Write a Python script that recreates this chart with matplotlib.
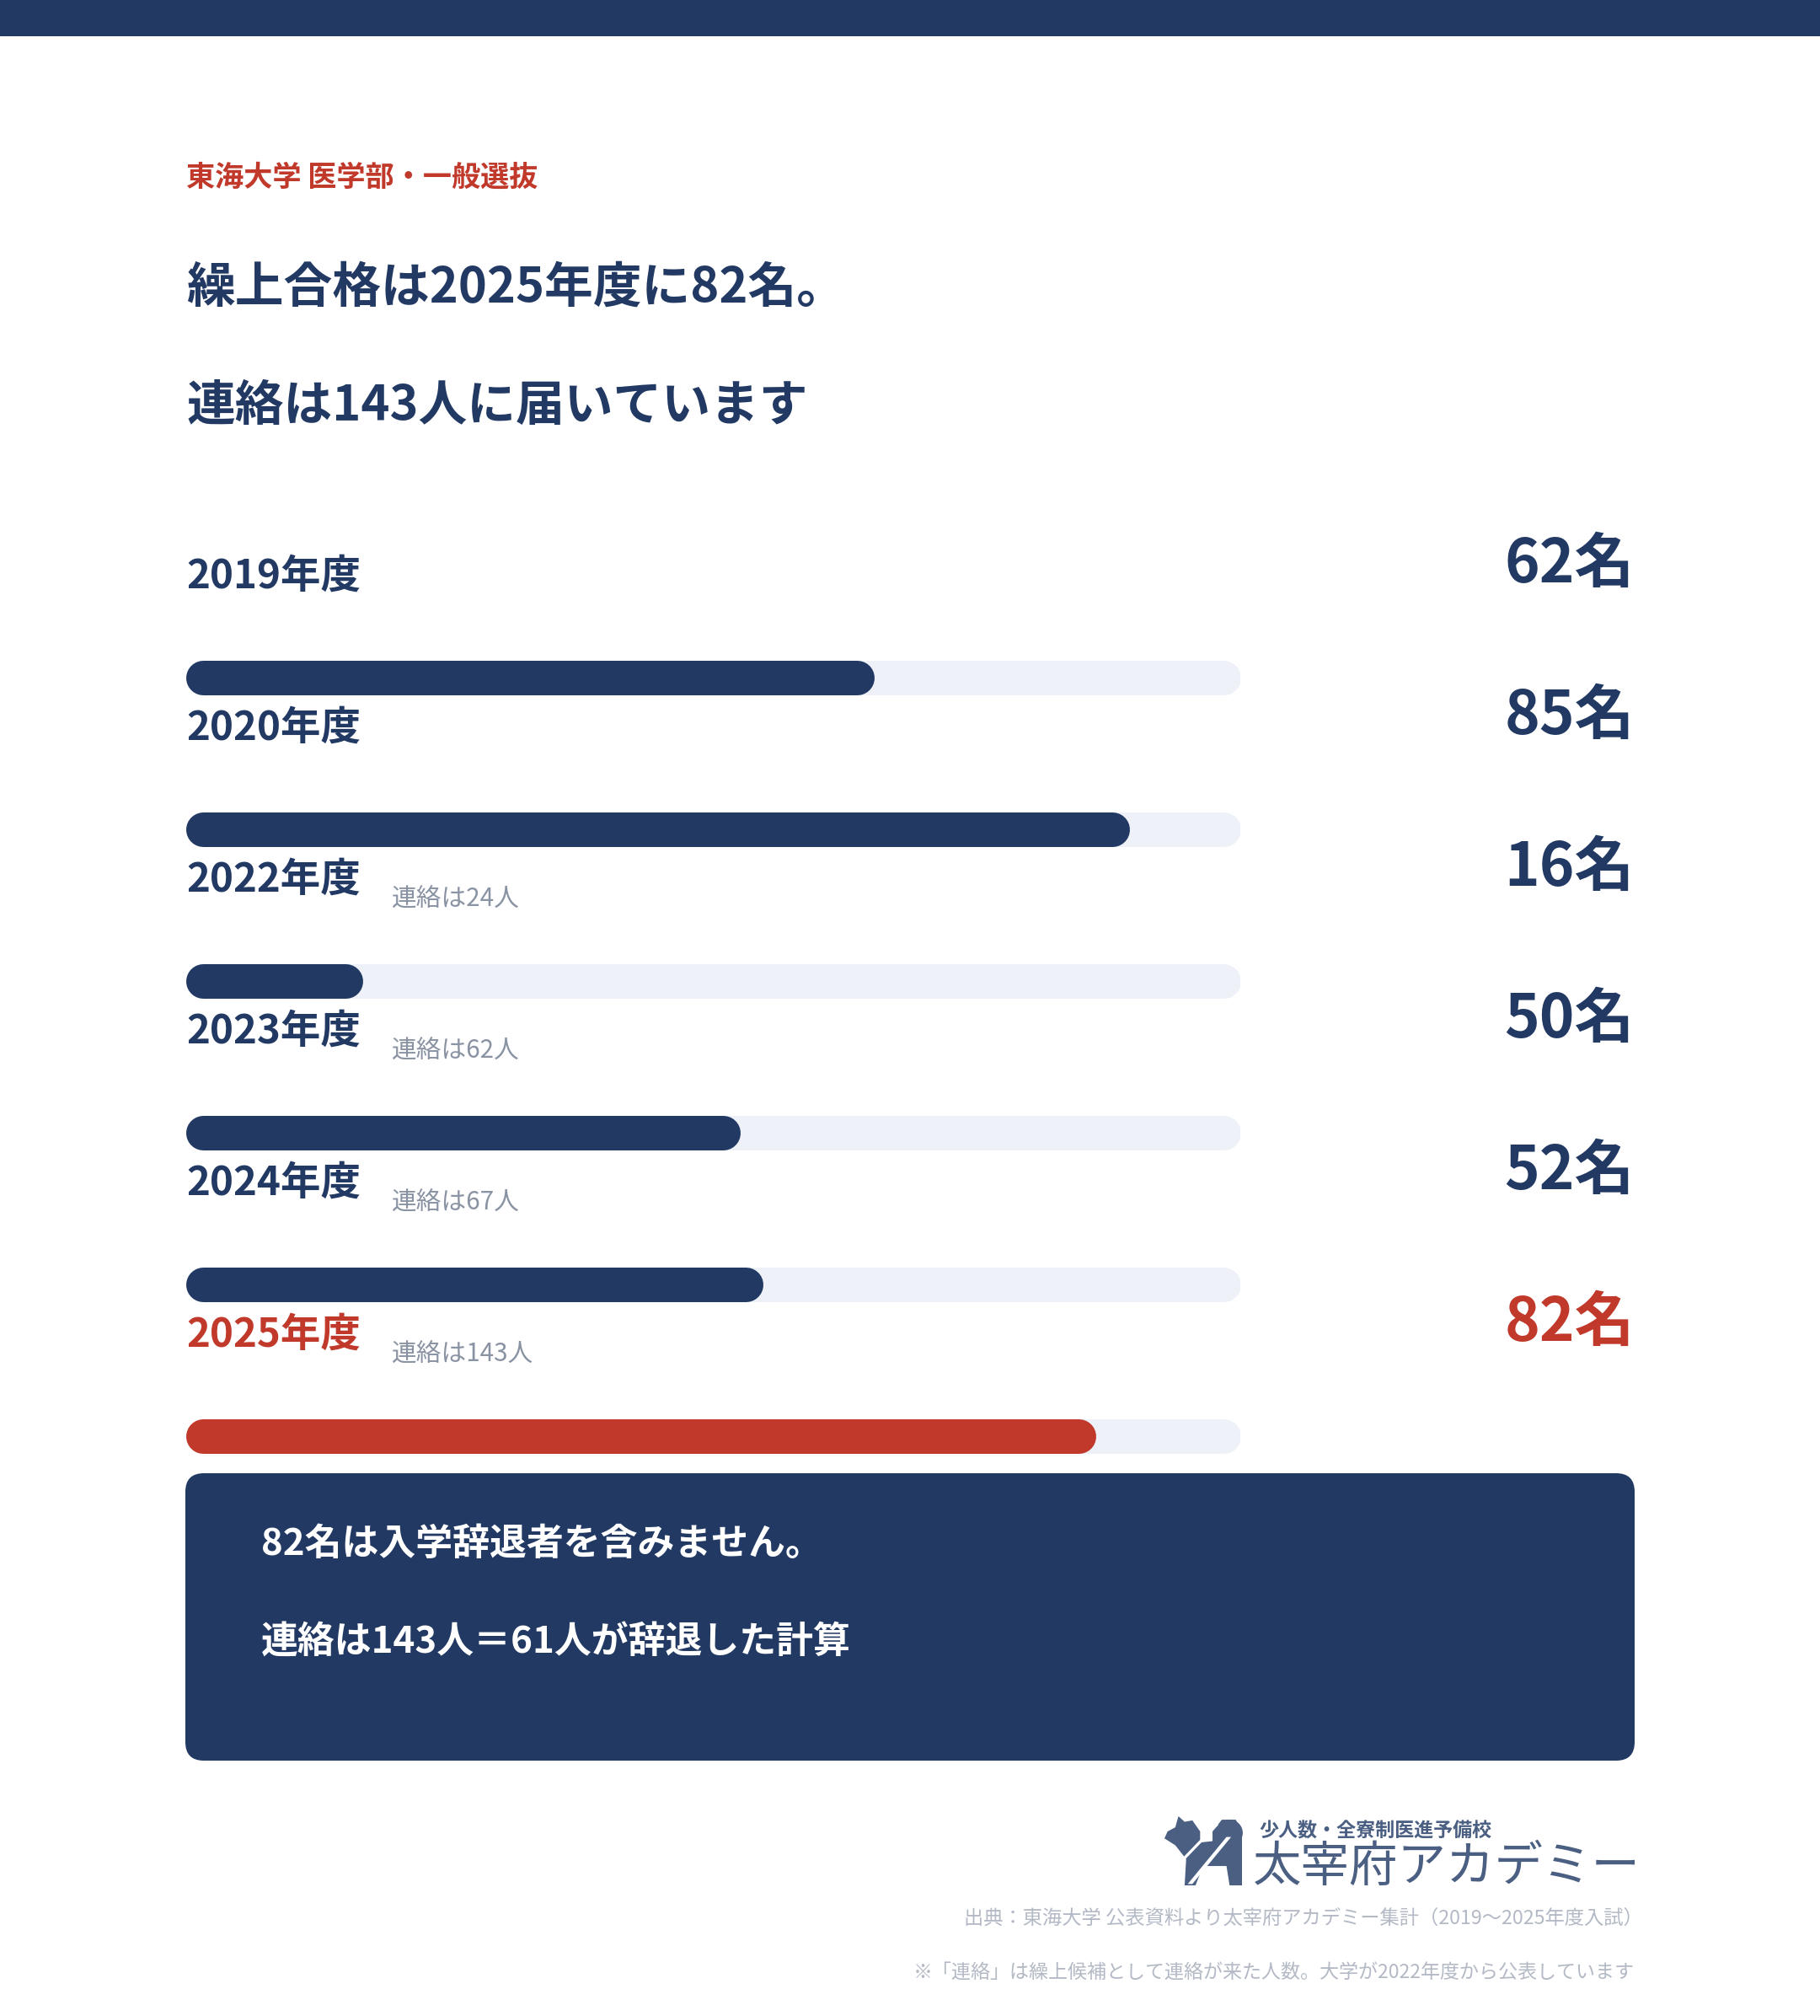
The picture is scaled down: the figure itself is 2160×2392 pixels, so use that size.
import matplotlib
matplotlib.use("Agg")
import matplotlib.pyplot as plt
from matplotlib.patches import FancyBboxPatch, Rectangle, Polygon, Circle

plt.rcParams['font.family'] = ['Noto Sans CJK JP', 'DejaVu Sans']

# data
years = ["2019年度", "2020年度", "2022年度", "2023年度", "2024年度", "2025年度"]
passed = [62, 85, 16, 50, 52, 82]
contacted = [None, None, 24, 62, 67, 143]
scale_max = 95

NAVY = "#213963"
RED = "#c0392b"
TRACK = "#eef1f8"
GRAY = "#8a93a3"
LIGHT = "#b3b9c5"
LOGO = "#4a5f82"

W, H = 2160, 2392
DPI = 200
fig = plt.figure(figsize=(W / DPI, H / DPI), dpi=DPI)
fig.patch.set_facecolor("white")

# background axes in pixel units (y down)
bg = fig.add_axes([0, 0, 1, 1])
bg.set_xlim(0, W)
bg.set_ylim(H, 0)
bg.axis("off")

bg.add_patch(Rectangle((0, 0), W, 43, color=NAVY, lw=0))

LEFT = 221
bg.text(LEFT, 210, "東海大学 医学部・一般選抜", color=RED, fontsize=12.3,
        fontweight="bold", va="center", ha="left")
bg.text(LEFT, 342, "繰上合格は2025年度に82名。", color=NAVY, fontsize=20.8,
        fontweight="bold", va="center", ha="left")
bg.text(LEFT, 482, "連絡は143人に届いています", color=NAVY, fontsize=20.8,
        fontweight="bold", va="center", ha="left")

# rows
ROW0, STEP = 684, 180
for i, (yr, n, c) in enumerate(zip(years, passed, contacted)):
    y = ROW0 + STEP * i
    col = RED if i == len(years) - 1 else NAVY
    bg.text(LEFT, y, yr, color=col, fontsize=17.1, fontweight="bold",
            va="center", ha="left")
    bg.text(1940, y - 14, f"{n}名", color=col, fontsize=25.5, fontweight="bold",
            va="center", ha="right")
    if c is not None:
        bg.text(465, y + 23, f"連絡は{c}人", color=GRAY, fontsize=10.7,
                va="center", ha="left")

# bar axes, x in data units, one row per year
BAR_L, BAR_R = 220, 1472
TOP = 804 - 90
bar_ax = fig.add_axes([BAR_L / W, 1 - (TOP + STEP * len(years)) / H,
                       (BAR_R - BAR_L) / W, STEP * len(years) / H])
bar_ax.set_xlim(0, scale_max)
bar_ax.set_ylim(len(years) - 0.5, -0.5)
bar_ax.axis("off")

bar_h = 41  # px
lw = bar_h / DPI * 72
r = (bar_h / 2) * scale_max / (BAR_R - BAR_L)  # cap radius in data units
for i, n in enumerate(passed):
    col = RED if i == len(passed) - 1 else NAVY
    bar_ax.plot([r, scale_max - r], [i, i], color=TRACK, lw=lw,
                solid_capstyle="round")
    bar_ax.plot([r, n - r], [i, i], color=col, lw=lw, solid_capstyle="round")

# summary box
bg.add_patch(FancyBboxPatch((220 + 22, 1748 + 22), 1720 - 44, 341 - 44,
                            boxstyle="round,pad=22", color=NAVY, lw=0))
bg.text(310, 1832, "82名は入学辞退者を含みません。", color="white", fontsize=15.8,
        fontweight="bold", va="center", ha="left")
bg.text(310, 1949, "連絡は143人＝61人が辞退した計算", color="white", fontsize=15.8,
        fontweight="bold", va="center", ha="left")

# logo (rough dog icon + name)
ox, oy, sw, sh = 1382, 2155, 92, 82
def pt(u, v):
    return (ox + u * sw, oy + v * sh)
body = [pt(0.18, 0.0), pt(0.26, 0.08), pt(0.36, 0.06), pt(0.46, 0.22),
        pt(0.46, 0.38), pt(0.62, 0.36), pt(0.62, 0.22), pt(0.74, 0.05),
        pt(0.92, 0.05), pt(1.0, 0.22), pt(1.0, 1.0), pt(0.84, 1.0),
        pt(0.80, 0.72), pt(0.50, 0.72), pt(0.40, 1.0), pt(0.26, 1.0),
        pt(0.28, 0.62), pt(0.14, 0.42), pt(0.0, 0.32), pt(0.04, 0.22),
        pt(0.14, 0.16)]
bg.add_patch(Polygon(body, closed=True, color=LOGO, lw=0))
bg.add_patch(Circle(pt(0.84, 0.24), 0.17 * sw, color=LOGO, lw=0))
stripe = [pt(0.30, 0.98), pt(0.36, 0.98), pt(0.86, 0.30), pt(0.80, 0.30)]
bg.add_patch(Polygon(stripe, closed=True, color="white", lw=0))
stripe2 = [pt(0.22, 0.62), pt(0.27, 0.62), pt(0.70, 0.12), pt(0.65, 0.12)]
bg.add_patch(Polygon(stripe2, closed=True, color="white", lw=0))

bg.text(1494, 2173, "少人数・全寮制医進予備校", color=LOGO, fontsize=8.3,
        fontweight="bold", va="center", ha="left")
bg.text(1487, 2216, "太宰府アカデミー", color=LOGO, fontsize=20.7,
        va="center", ha="left")

# footer notes
bg.text(1950, 2277, "出典：東海大学 公表資料より太宰府アカデミー集計（2019〜2025年度入試）",
        color=LIGHT, fontsize=8.4, va="center", ha="right")
bg.text(1940, 2340, "※「連絡」は繰上候補として連絡が来た人数。大学が2022年度から公表しています",
        color=LIGHT, fontsize=8.3, va="center", ha="right")

fig.savefig("out.png", dpi=DPI, facecolor="white")
